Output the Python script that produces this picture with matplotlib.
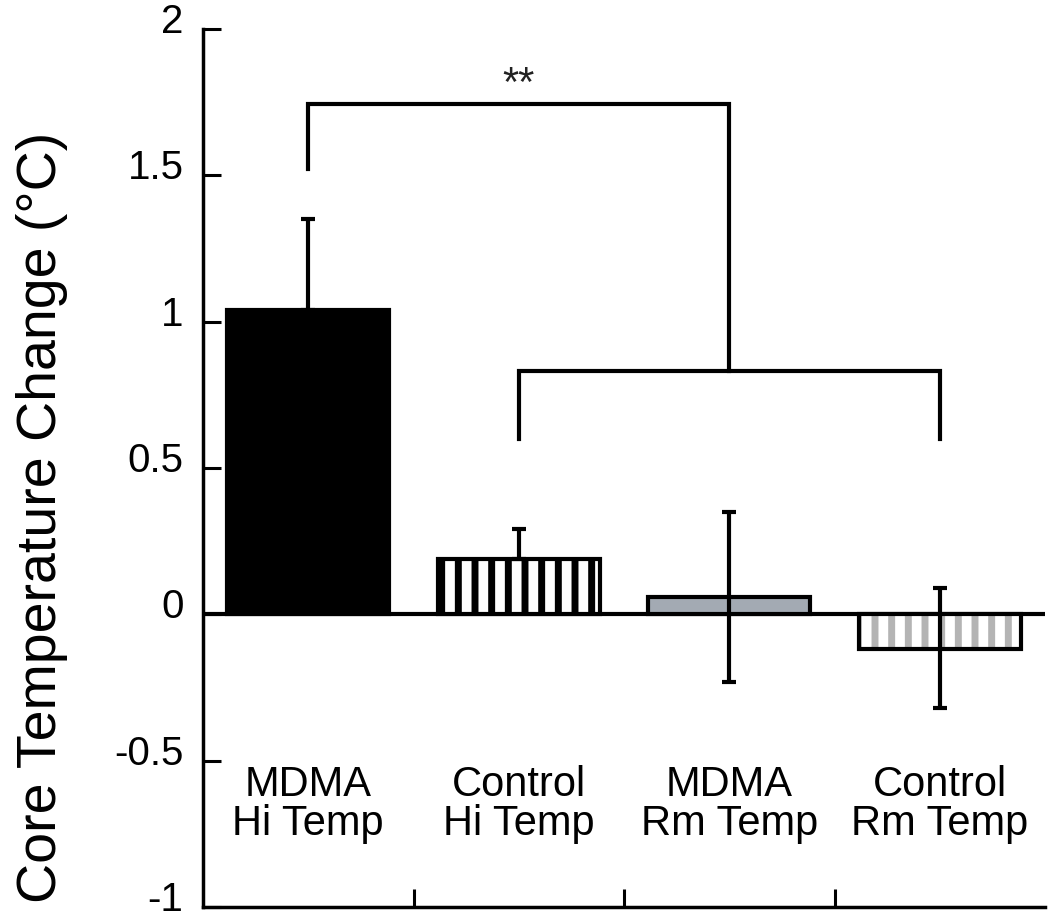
import numpy as np
import matplotlib
matplotlib.use("Agg")
import matplotlib.pyplot as plt
import matplotlib.transforms as mtrans

# data
groups = ["MDMA\nHi Temp", "Control\nHi Temp", "MDMA\nRm Temp", "Control\nRm Temp"]
means = [1.04, 0.19, 0.06, -0.12]
err_low = [0.0, 0.0, 0.29, 0.20]
err_high = [0.31, 0.10, 0.29, 0.21]
yticks = [-1, -0.5, 0, 0.5, 1, 1.5, 2]
ytick_labels = ["-1", "-0.5", "0", "0.5", "1", "1.5", "2"]

# significance brackets: (left group, right group, leg bottoms, top level)
bracket_outer = (0, 2, [1.52, 0.83], 1.745)
bracket_inner = (1, 3, [0.60, 0.60], 0.83)
stars = "**"

plt.rcParams['font.family'] = ['Liberation Sans', 'DejaVu Sans']
plt.rcParams['axes.unicode_minus'] = False
plt.rcParams['hatch.linewidth'] = 5.0

fig = plt.figure(figsize=(10.5, 9.15), dpi=100)
ax = fig.add_axes([203/1050, 8/915, 842/1050, 878/915])

x = np.arange(len(groups))
w = 0.77

ax.axhline(0, color='k', lw=3, zorder=1)

ax.bar(x[0], means[0], w, color='k', edgecolor='k', lw=3, zorder=2)
ax.bar(x[1], means[1], w, color='white', edgecolor='k', hatch='|', lw=3, zorder=2)
ax.bar(x[2], means[2], w, color='#a3aab3', edgecolor='k', lw=3, zorder=2)
ax.bar(x[3], means[3], w, color='white', edgecolor='#b4b4b4', hatch='|', lw=0, zorder=2)
ax.bar(x[3], means[3], w, fill=False, edgecolor='k', lw=3, zorder=3)

ax.errorbar(x, means, yerr=[err_low, err_high], fmt='none', ecolor='k',
            elinewidth=3, capsize=5, capthick=3, zorder=4)

for a, b, legs, top in [bracket_outer, bracket_inner]:
    ax.plot([x[a], x[a], x[b], x[b]], [legs[0], top, top, legs[1]], color='k',
            lw=3, solid_joinstyle='miter', zorder=4)
ax.text((x[0] + x[2]) / 2, 1.81, stars, ha='center', va='center',
        fontsize=30, color='#222222')

for xi, g in zip(x, groups):
    ax.text(xi, -0.65, g, ha='center', va='center', fontsize=30, linespacing=0.95)

ax.set_xlim(-0.5, 3.5)
ax.set_ylim(-1, 2)
ax.set_yticks(yticks)
ax.set_yticklabels(ytick_labels)
ax.set_xticks([0.5, 1.5, 2.5])
ax.set_xticklabels([])
ax.tick_params(axis='y', direction='in', length=13, width=2.2, labelsize=29, pad=14)
ax.tick_params(axis='x', direction='in', length=13, width=2.2)

# labels sit a little above their ticks in the original
shift = mtrans.ScaledTranslation(0, 11/100, fig.dpi_scale_trans)
for lab in ax.get_yticklabels():
    lab.set_transform(lab.get_transform() + shift)

for s in ['top', 'right']:
    ax.spines[s].set_visible(False)
for s in ['left', 'bottom']:
    ax.spines[s].set_linewidth(2.5)

ax.set_ylabel("Core Temperature Change (°C)", fontsize=40)
ax.yaxis.set_label_coords(-0.160, 0.444)

fig.savefig("out.png", dpi=100)
